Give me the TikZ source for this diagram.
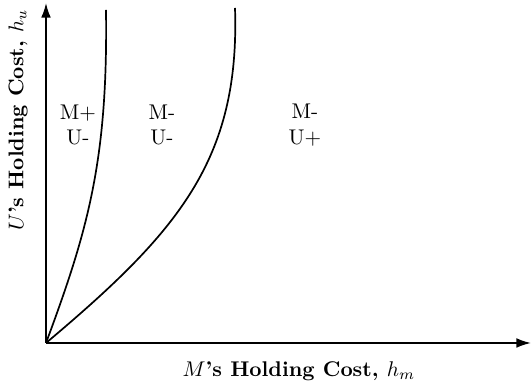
\documentclass[tikz,border=0pt]{standalone}
\usepackage{tikz}
\usetikzlibrary{arrows.meta,positioning}
\tikzset{
  axis/.style    = {-{Latex[length=2.4mm,width=1.6mm]}, line width=0.8pt},
  bound/.style   = {line width=0.8pt},
  region/.style  = {align=center, font=\normalsize, inner sep=1pt},
  axislab/.style = {font=\normalsize, inner sep=1pt},
}
\begin{document}
\begin{tikzpicture}[x=0.47pt, y=-0.47pt]
  \useasboundingbox (0,0) rectangle (532,385);

  \coordinate (O)  at (46,343);
  \coordinate (xe) at (531,343);
  \coordinate (ye) at (46,3);

  \draw[axis] (O) -- (xe);
  \draw[axis] (O) -- (ye);

  \node[axislab] (xl) at (299,371) {\textbf{$M$'s Holding Cost, $h_m$}};
  \node[axislab, rotate=90] (yl) at (18,120) {\textbf{$U$'s Holding Cost, $h_u$}};

  % --- region boundaries ---
  \coordinate (t1) at (106,10);
  \coordinate (t2) at (235,8);
  \draw[bound] (O) .. controls (88,230) and (108,160) .. (t1);
  \draw[bound] (O) .. controls (178,232) and (240,160) .. (t2);

  \node[region] (r1) at (78,125)  {M+\\U-};
  \node[region] (r2) at (162,125) {M-\\U-};
  \node[region] (r3) at (305,125) {M-\\U+};
\end{tikzpicture}
\end{document}
